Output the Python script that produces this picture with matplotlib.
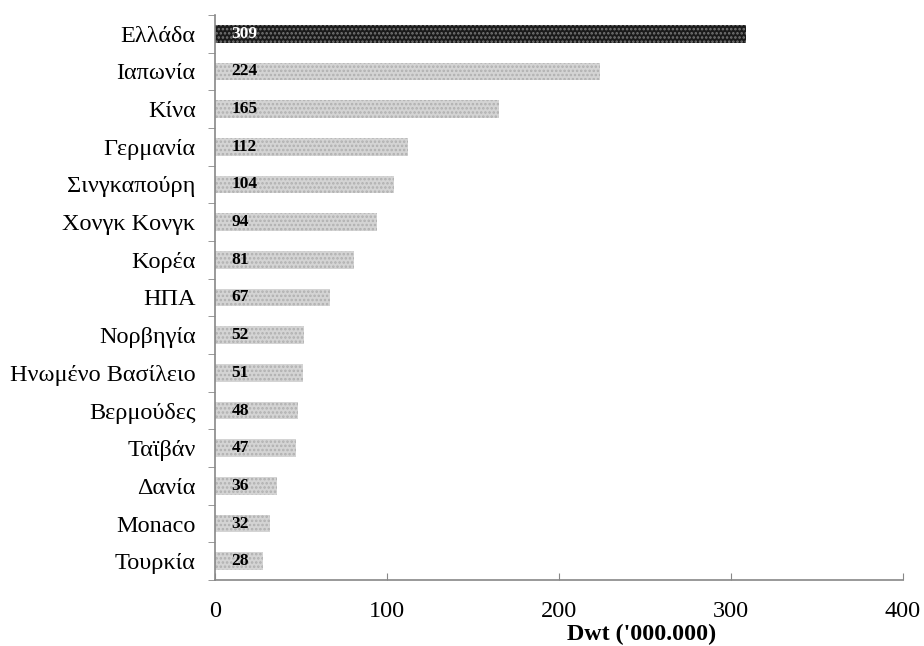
import matplotlib
matplotlib.use("Agg")
import matplotlib.pyplot as plt
import numpy as np

plt.rcParams['font.family'] = ['Liberation Serif', 'DejaVu Serif']
plt.rcParams['hatch.linewidth'] = 1.2

countries = ["Ελλάδα", "Ιαπωνία", "Κίνα", "Γερμανία", "Σινγκαπούρη", "Χονγκ Κονγκ",
             "Κορέα", "ΗΠΑ", "Νορβηγία", "Ηνωμένο Βασίλειο", "Βερμούδες", "Ταϊβάν",
             "Δανία", "Monaco", "Τουρκία"]
dwt = [309, 224, 165, 112, 104, 94, 81, 67, 52, 51, 48, 47, 36, 32, 28]
highlight = "Ελλάδα"
xticks = [0, 100, 200, 300, 400]

fig = plt.figure(figsize=(9.24, 6.46), dpi=100)
ax = fig.add_axes([0.2327, 0.102, 0.7443, 0.875])

y = np.arange(len(countries))
for yi, name, val in zip(y, countries, dwt):
    dark = name == highlight
    ax.barh(yi, val, height=0.47,
            color="#1a1a1a" if dark else "#d4d4d4",
            edgecolor="#777777" if dark else "#b0b0b0",
            hatch="....", linewidth=0)
    ax.text(9.5, yi, str(val), va="center", ha="left", fontsize=12.5,
            fontweight="bold", color="white" if dark else "black")

ax.set_ylim(len(countries) - 0.5, -0.5)
ax.set_xlim(0, 400)
ax.set_yticks(y)
ax.set_yticklabels(countries, fontsize=17.5)
ax.set_yticks(np.arange(len(countries) + 1) - 0.5, minor=True)
ax.tick_params(axis="y", which="major", length=0, pad=14)
ax.tick_params(axis="y", which="minor", length=5, color="#888888", direction="out")
ax.set_xticks(xticks)
ax.set_xticklabels([str(t) for t in xticks], fontsize=17.5)
ax.tick_params(axis="x", length=5, direction="in", color="#888888", pad=15)

fig.text(642 / 924, 1 - 634 / 646, "Dwt ('000.000)", fontsize=17.3,
         fontweight="bold", ha="center", va="center")

for side in ["top", "right"]:
    ax.spines[side].set_visible(False)
for side in ["left", "bottom"]:
    ax.spines[side].set_color("#888888")
    ax.spines[side].set_linewidth(1.2)

fig.savefig("out.png", dpi=100)
